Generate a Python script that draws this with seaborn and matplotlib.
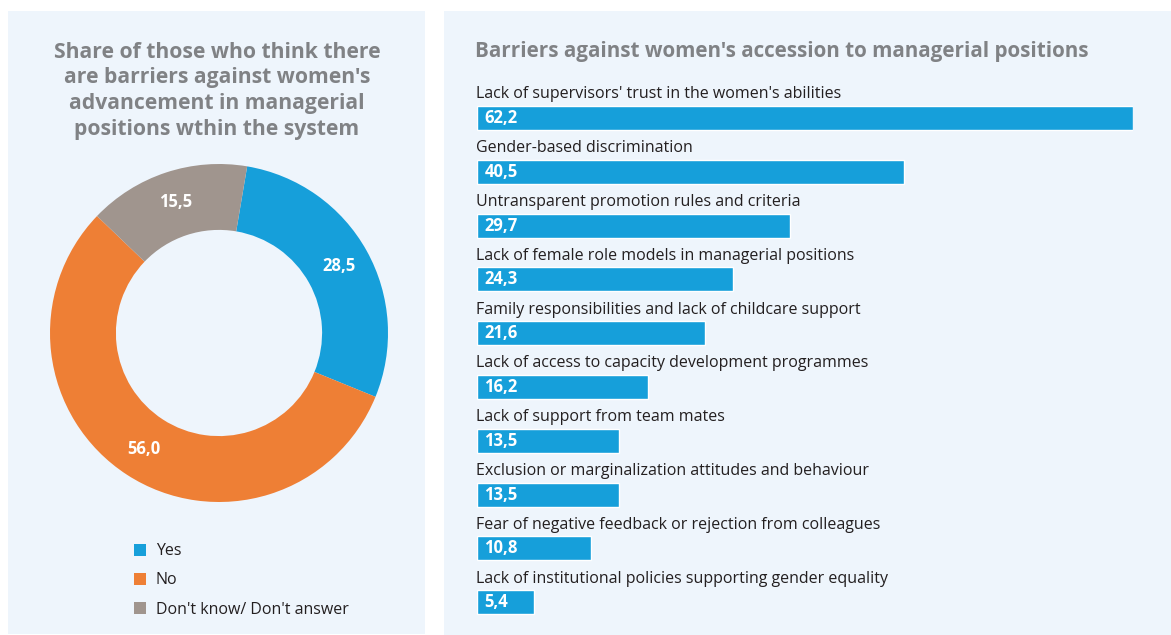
import matplotlib
matplotlib.use("Agg")
import matplotlib.pyplot as plt
import seaborn as sns
import pandas as pd
from matplotlib.patches import Rectangle

# ---- data ----
donut_labels = ["Yes", "No", "Don't know/ Don't answer"]
donut_values = [28.5, 56.0, 15.5]

barriers = [
    "Lack of supervisors' trust in the women's abilities",
    "Gender-based discrimination",
    "Untransparent promotion rules and criteria",
    "Lack of female role models in managerial positions",
    "Family responsibilities and lack of childcare support",
    "Lack of access to capacity development programmes",
    "Lack of support from team mates",
    "Exclusion or marginalization attitudes and behaviour",
    "Fear of negative feedback or rejection from colleagues",
    "Lack of institutional policies supporting gender equality",
]
barrier_values = [62.2, 40.5, 29.7, 24.3, 21.6, 16.2, 13.5, 13.5, 10.8, 5.4]

left_title = "Share of those who think there\nare barriers against women's\nadvancement in managerial\npositions wthin the system"
right_title = "Barriers against women's accession to managerial positions"

# ---- style ----
sns.set_theme(style="white")
plt.rcParams["font.family"] = ["Open Sans", "DejaVu Sans"]

BLUE = "#169FDA"
ORANGE = "#EE7F35"
GREY = "#A0958E"
PANEL = "#EEF5FC"
TITLE_C = "#808285"
TEXT_C = "#231F20"

W, H = 1171, 635
fig = plt.figure(figsize=(W / 100, H / 100), dpi=100)
fig.patch.set_facecolor("white")

def fx(px):
    return px / W

def fy(py):
    return 1 - py / H

# panels
fig.patches.append(Rectangle((fx(8), fy(634)), fx(425) - fx(8), fy(11) - fy(634),
                             transform=fig.transFigure, facecolor=PANEL, edgecolor="none", zorder=-5))
fig.patches.append(Rectangle((fx(444), fy(635)), 1 - fx(444), fy(11) - fy(635),
                             transform=fig.transFigure, facecolor=PANEL, edgecolor="none", zorder=-5))

# titles
fig.text(fx(217), fy(41.5), left_title, ha="center", va="top", fontsize=15.2, fontweight="bold",
         color=TITLE_C, linespacing=1.3)
fig.text(fx(475), fy(51.5), right_title, ha="left", va="center", fontsize=14.85, fontweight="bold",
         color=TITLE_C)

# ---- donut ----
cx, cy, r = 219, 333, 169
ax1 = fig.add_axes([fx(cx - r), fy(cy + r), 2 * r / W, 2 * r / H])
ax1.set_zorder(2)
colors = [BLUE, ORANGE, GREY]
wedges, texts, autotexts = ax1.pie(
    donut_values, colors=colors, startangle=90 - 9.6, counterclock=False,
    wedgeprops=dict(width=0.39, edgecolor="none"), autopct=lambda p: "",
    pctdistance=0.815, radius=1.0)
for at, v in zip(autotexts, donut_values):
    at.set_text(f"{v:.1f}".replace(".", ","))
    at.set_color("white")
    at.set_fontweight("bold")
    at.set_fontsize(12)
ax1.set_xlim(-1, 1)
ax1.set_ylim(-1, 1)
ax1.set_aspect("equal")
ax1.axis("off")

fig.legend(wedges, donut_labels, loc="upper left", bbox_to_anchor=(fx(120), fy(529)),
           frameon=False, fontsize=11.5, handlelength=0.75, handleheight=0.75,
           labelspacing=0.82, handletextpad=0.6, labelcolor=TEXT_C)

# ---- bars ----
row = 53.8
top_c, n = 118, len(barriers)
ax2 = fig.add_axes([fx(477), fy(top_c + (n - 0.5) * row), 656 / W, n * row / H])
ax2.set_zorder(2)
df = pd.DataFrame({"barrier": barriers, "value": barrier_values})
sns.barplot(data=df, y="barrier", x="value", orient="h", color=BLUE, saturation=1,
            width=0.446, ax=ax2)
ax2.set_xlim(0, 62.2)
ax2.set_ylim(n - 0.5, -0.5)
ax2.axis("off")
for i, (lab, v) in enumerate(zip(barriers, barrier_values)):
    ax2.text(-0.1, i - 0.44, lab, ha="left", va="center", fontsize=11.5, color=TEXT_C, clip_on=False)
    ax2.text(0.7, i, f"{v:.1f}".replace(".", ","), ha="left", va="center", fontsize=12,
             fontweight="bold", color="white")

fig.savefig("out.png", dpi=100, facecolor="white")
